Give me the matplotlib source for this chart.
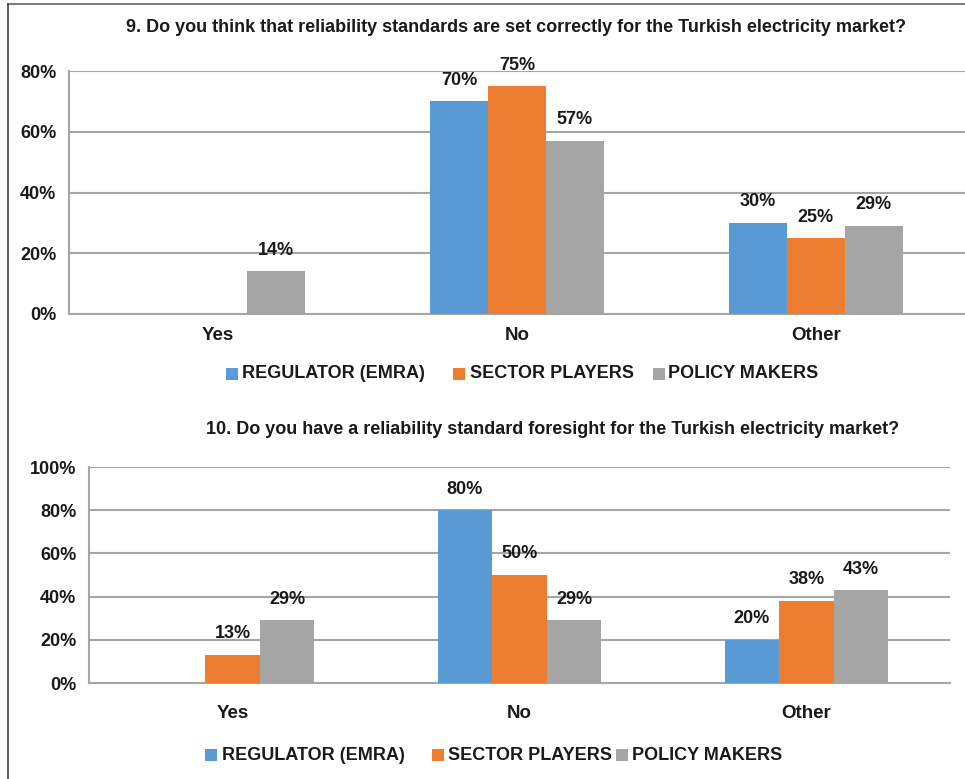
import matplotlib
matplotlib.use("Agg")
import matplotlib.pyplot as plt
from matplotlib.lines import Line2D
from matplotlib.patches import Rectangle
import numpy as np

plt.rcParams['font.family'] = ['Liberation Sans', 'DejaVu Sans']
plt.rcParams['font.weight'] = 'bold'

categories = ["Yes", "No", "Other"]
series_names = ["REGULATOR (EMRA)", "SECTOR PLAYERS", "POLICY MAKERS"]
colors = ["#5B9BD5", "#ED7D31", "#A5A5A5"]

# Question 9
q9_title = "9. Do you think that reliability standards are set correctly for the Turkish electricity market?"
q9_emra = [None, 70, 30]
q9_sector = [None, 75, 25]
q9_policy = [14, 57, 29]
q9_ticks = [0, 20, 40, 60, 80]

# Question 10
q10_title = "10. Do you have a reliability standard foresight for the Turkish electricity market?"
q10_emra = [None, 80, 20]
q10_sector = [13, 50, 38]
q10_policy = [29, 29, 43]
q10_ticks = [0, 20, 40, 60, 80, 100]

W, H = 965, 779
fig = plt.figure(figsize=(W / 100, H / 100), dpi=100)
fig.patch.set_facecolor("white")

grid_color = "#A6A6A6"
text_color = "#1a1a1a"


def draw_panel(rect, series, ticks, bar_w, label_off, xpad):
    ax = fig.add_axes(rect)
    x = np.arange(len(categories))
    for i, (vals, c) in enumerate(zip(series, colors)):
        for xi, v in zip(x, vals):
            if v is None:
                continue
            xpos = xi + (i - 1) * bar_w
            ax.bar(xpos, v, width=bar_w, color=c, zorder=3)
            ax.annotate(f"{v:.0f}%", (xpos, v), xytext=(0, label_off),
                        textcoords="offset points", ha="center", va="bottom",
                        fontsize=13, fontweight="bold", color=text_color)
    ax.set_xlim(-0.5, len(categories) - 0.5)
    ax.set_ylim(0, ticks[-1])
    ax.set_yticks(ticks)
    ax.set_yticklabels([f"{t}%" for t in ticks], fontsize=13, fontweight="bold")
    ax.set_xticks(x)
    ax.set_xticklabels(categories, fontsize=13.5, fontweight="bold")
    ax.tick_params(axis="both", length=0, colors=text_color)
    ax.tick_params(axis="y", pad=9)
    ax.tick_params(axis="x", pad=xpad)
    ax.yaxis.grid(True, color=grid_color, linewidth=1.5, zorder=0)
    ax.set_axisbelow(True)
    for s in ["top", "right"]:
        ax.spines[s].set_visible(False)
    for s in ["left", "bottom"]:
        ax.spines[s].set_color(grid_color)
        ax.spines[s].set_linewidth(1.5)
    return ax


ax1 = draw_panel([69 / W, 1 - 314 / H, 1 - 69 / W, (314 - 71) / H],
                 [q9_emra, q9_sector, q9_policy], q9_ticks, 0.194, 9, 9)
ax2 = draw_panel([89 / W, 1 - 683 / H, (950 - 89) / W, (683 - 467) / H],
                 [q10_emra, q10_sector, q10_policy], q10_ticks, 0.19, 9, 16)

fig.text(516 / W, 1 - 27 / H, q9_title, ha="center", va="center",
         fontsize=13, fontweight="bold", color=text_color)
fig.text(553 / W, 1 - 430 / H, q10_title, ha="center", va="center",
         fontsize=13, fontweight="bold", color=text_color)


def legend_row(y_px, square_x_px, text_x_px):
    size = 12
    for name, c, sx, tx in zip(series_names, colors, square_x_px, text_x_px):
        fig.add_artist(Rectangle((sx / W, 1 - (y_px + size / 2) / H), size / W, size / H,
                                 transform=fig.transFigure, facecolor=c, edgecolor="none"))
        fig.text(tx / W, 1 - y_px / H, name, ha="left", va="center",
                 fontsize=13, fontweight="bold", color=text_color)


legend_row(374, [226, 453, 653], [242, 470, 668])
legend_row(755, [205, 432, 616], [222, 448, 632])

# Outer frame: top and left edges
fig.add_artist(Line2D([8 / W, 1], [1 - 4 / H, 1 - 4 / H], transform=fig.transFigure,
                      color="#7f7f7f", linewidth=1.5))
fig.add_artist(Line2D([8 / W, 8 / W], [0, 1 - 4 / H], transform=fig.transFigure,
                      color="#404040", linewidth=1.2))

fig.savefig("out.png", dpi=100)
